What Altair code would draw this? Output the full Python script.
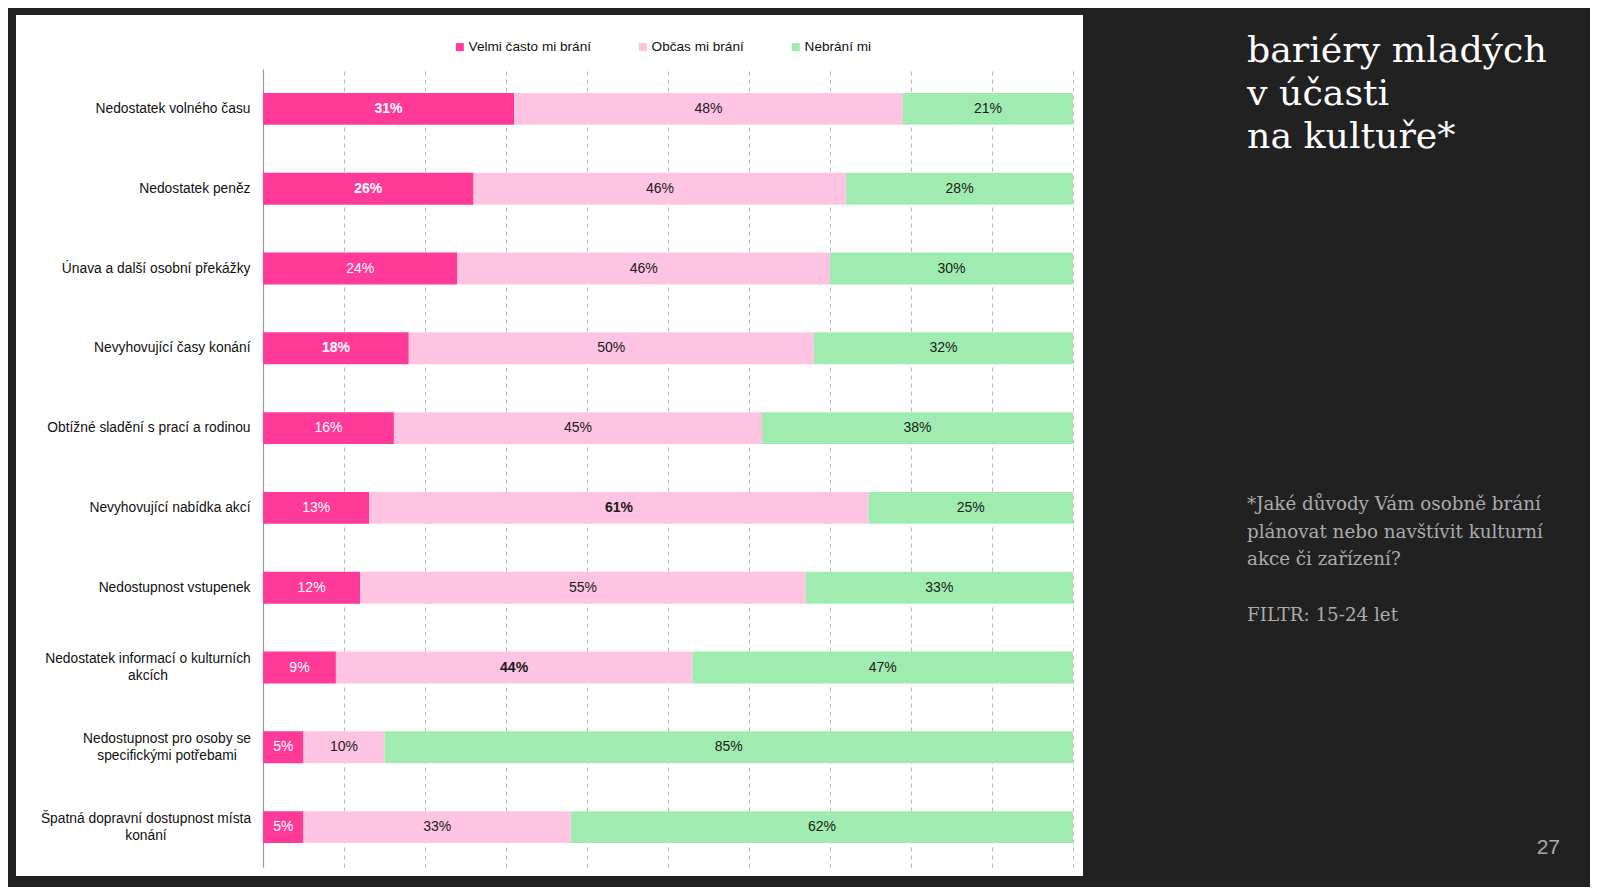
import altair as alt
import pandas as pd

categories = [
    "Nedostatek volného času",
    "Nedostatek peněz",
    "Únava a další osobní překážky",
    "Nevyhovující časy konání",
    "Obtížné sladění s prací a rodinou",
    "Nevyhovující nabídka akcí",
    "Nedostupnost vstupenek",
    "Nedostatek informací o kulturních|akcích",
    "Nedostupnost pro osoby se|specifickými potřebami",
    "Špatná dopravní dostupnost místa|konání",
]
series = ["Velmi často mi brání", "Občas mi brání", "Nebrání mi"]
velmi = [31, 26, 24, 18, 16, 13, 12, 9, 5, 5]
obcas = [48, 46, 46, 50, 45, 61, 55, 44, 10, 33]
nebrani = [21, 28, 30, 32, 38, 25, 33, 47, 85, 62]
bold_velmi = [True, True, False, True, False, False, False, False, False, False]
bold_obcas = [False, False, False, False, False, True, False, True, False, False]
bold_nebrani = [False] * 10
colors = ["#FF3A98", "#FFC4E1", "#A0ECB0"]
text_colors = ["#ffffff", "#1a1a1a", "#1a1a1a"]

title_text = "bariéry mladých\nv účasti\nna kultuře*"
note_text = "*Jaké důvody Vám osobně brání\nplánovat nebo navštívit kulturní\nakce či zařízení?"
filter_text = "FILTR: 15-24 let"
page_number = "27"

# style: padding (px) that centres the two-line labels as a block against the axis
two_line_padding = {
    "Nedostatek informací o kulturních|akcích": 115.5,
    "Nedostupnost pro osoby se|specifickými potřebami": 96.5,
    "Špatná dopravní dostupnost místa|konání": 117.5,
}

rows = []
for i, c in enumerate(categories):
    for j, (vals, bolds) in enumerate(zip([velmi, obcas, nebrani], [bold_velmi, bold_obcas, bold_nebrani])):
        rows.append({"cat": c, "series": series[j], "order": j, "value": vals[i],
                     "label": f"{vals[i]}%", "bold": bolds[i]})
df = pd.DataFrame(rows)

W, H = 810, 798
DARK = "#212121"
one = pd.DataFrame({"a": [0]})

multi_test = "indexof(datum.value, '|') >= 0"
pad_conditions = [{"test": f"datum.value === '{k}'", "value": v} for k, v in two_line_padding.items()]

y_enc = alt.Y("cat:N", sort=categories, title=None,
              scale=alt.Scale(paddingInner=0.6, paddingOuter=0.3),
              axis=alt.Axis(labelExpr="split(datum.label, '|')", labelFont="Liberation Sans",
                            labelFontSize=13.8, labelColor="#111111",
                            labelPadding={"condition": pad_conditions, "value": 13},
                            labelAlign={"condition": {"test": multi_test, "value": "center"},
                                        "value": "right"},
                            labelOffset={"condition": {"test": multi_test, "value": -8.5},
                                         "value": 0},
                            ticks=False, domainColor="#9a9a9a", domainWidth=1.2,
                            labelLimit=300, labelLineHeight=17, grid=False))

base = alt.Chart(df).transform_stack(
    stack="value", groupby=["cat"], as_=["s", "e"], offset="normalize",
    sort=[alt.SortField("order")]
).transform_calculate(mid="(datum.s + datum.e) / 2")


def dark_rect(x, x2, y, y2):
    return alt.Chart(one).mark_rect(color=DARK).encode(
        x=alt.value(x), x2=alt.value(x2), y=alt.value(y), y2=alt.value(y2))


surround = [
    dark_rect(-260, -247, -70, 830),   # left strip
    dark_rect(-260, 1340, -70, -54),   # top strip
    dark_rect(820, 1340, -70, 830),    # right area
    dark_rect(-260, 1340, 807, 830),   # bottom strip
]

bars = base.mark_bar().encode(
    x=alt.X("s:Q", scale=alt.Scale(domain=[0, 1]), title=None,
            axis=alt.Axis(values=[i / 10 for i in range(11)], labels=False, ticks=False,
                          domain=False, grid=True, gridDash=[4, 4], gridColor="#b5b5b5",
                          gridWidth=1)),
    x2="e:Q",
    y=y_enc,
    color=alt.Color("series:N", sort=series,
                    scale=alt.Scale(domain=series, range=colors),
                    legend=alt.Legend(title=None, orient="none", legendX=190, legendY=-29,
                                      direction="horizontal", symbolType="square",
                                      symbolSize=64, symbolStrokeWidth=0,
                                      labelFont="Liberation Sans", labelFontSize=13.6,
                                      labelColor="#111111", labelOffset=2,
                                      columnPadding=45)),
)


def label_layer(weight, cond):
    return base.transform_filter(cond).mark_text(
        font="Liberation Sans", fontSize=14, baseline="middle", fontWeight=weight).encode(
        x="mid:Q",
        y=alt.Y("cat:N", sort=categories),
        text="label:N",
        color=alt.Color("series:N", scale=alt.Scale(domain=series, range=text_colors),
                        legend=None),
    )


labels_normal = label_layer("normal", "!datum.bold")
labels_bold = label_layer("bold", "datum.bold")

title_df = pd.DataFrame({"t": [title_text]})
title = alt.Chart(title_df).mark_text(
    font="DejaVu Serif", fontSize=36.3, color="#ffffff", align="left", baseline="alphabetic",
    lineBreak="\n", lineHeight=42.8).encode(
    text="t:N", x=alt.value(984), y=alt.value(-7))

note_df = pd.DataFrame({"t": [note_text]})
note = alt.Chart(note_df).mark_text(
    font="DejaVu Serif", fontSize=18.3, color="#ababab", align="left", baseline="alphabetic",
    lineBreak="\n", lineHeight=27.5).encode(
    text="t:N", x=alt.value(984), y=alt.value(441))

filt_df = pd.DataFrame({"t": [filter_text]})
filt = alt.Chart(filt_df).mark_text(
    font="DejaVu Serif", fontSize=18.3, color="#ababab", align="left",
    baseline="alphabetic").encode(text="t:N", x=alt.value(984), y=alt.value(552))

page_df = pd.DataFrame({"t": [page_number]})
page = alt.Chart(page_df).mark_text(
    font="Liberation Sans", fontSize=21, color="#aaaaaa", align="right",
    baseline="middle").encode(text="t:N", x=alt.value(1297), y=alt.value(779))

chart = alt.layer(bars, labels_normal, labels_bold, *surround, title, note, filt, page).resolve_scale(
    color="independent"
).properties(
    width=W, height=H,
    padding={"left": 255, "top": 61, "right": 517, "bottom": 20},
    autosize=alt.AutoSizeParams(type="none"),
    background="#ffffff",
).configure_view(stroke=None)

chart.save("out.html", embed_options={"renderer": "svg", "actions": False})
